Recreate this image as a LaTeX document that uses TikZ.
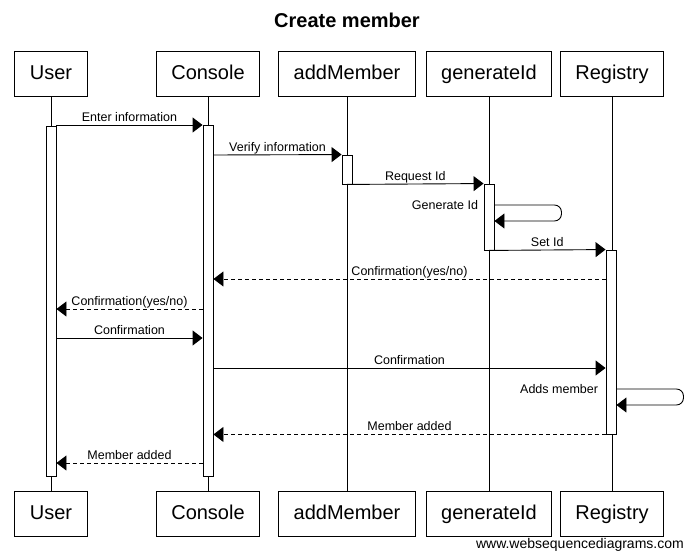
\documentclass[tikz,border=0pt]{standalone}
\usepackage{fontspec}
\setmainfont{Liberation Sans}
\usetikzlibrary{arrows.meta,positioning}

\begin{document}
\begin{tikzpicture}[
        x=1pt, y=-1pt,
        box/.style={rectangle, draw=black, line width=0.9pt, fill=white, minimum height=45pt, inner xsep=15pt, text height=14.5pt, text depth=4pt, font=\fontsize{20}{24}\selectfont},
        act/.style={rectangle, draw=black, line width=0.9pt, fill=white, minimum width=10pt, inner sep=0pt},
        msg/.style={-{Triangle[length=10pt,width=15pt]}, line width=0.9pt},
        reply/.style={msg, dash pattern=on 4pt off 3pt},
        lbl/.style={font=\fontsize{12.5}{14}\selectfont, anchor=base, yshift=3.5pt, inner sep=0pt},
        selflbl/.style={font=\fontsize{12.5}{14}\selectfont, anchor=east, inner sep=0pt}
    ]
    \useasboundingbox (0,0) rectangle (694,559);

    % Title
    \node[font=\bfseries\fontsize{20}{24}\selectfont] (title) at (347,20) {Create member};

    % Participants
    \node[box] (userTop) at (51,74) {User};
    \node[box] (consoleTop) at (208,74) {Console};
    \node[box] (addTop) at (347,74) {addMember};
    \node[box] (genTop) at (489,74) {generateId};
    \node[box] (regTop) at (612,74) {Registry};

    \node[box, below=394pt of userTop] (userBot) {User};
    \node[box, below=394pt of consoleTop] (consoleBot) {Console};
    \node[box, below=394pt of addTop] (addBot) {addMember};
    \node[box, below=394pt of genTop] (genBot) {generateId};
    \node[box, below=394pt of regTop] (regBot) {Registry};

    % Lifelines
    \foreach \p in {user,console,add,gen,reg}
        \draw[line width=0.9pt] (\p Top) -- (\p Bot);

    % Activations
    \node[act, minimum height=350pt] (userAct) at (51,301) {};
    \node[act, minimum height=351pt] (consoleAct) at (208,300.5) {};
    \node[act, minimum height=29pt] (addAct) at (347,169.5) {};
    \node[act, minimum height=66pt] (genAct) at (489,217) {};
    \node[act, minimum height=184pt] (regAct) at (611,342) {};

    % Message rows
    \coordinate (r1) at (0,125);
    \coordinate (r2) at (0,155);
    \coordinate (r4) at (0,205);
    \coordinate (r4b) at (0,221);
    \coordinate (r6) at (0,279);
    \coordinate (r7) at (0,309);
    \coordinate (r8) at (0,338);
    \coordinate (r9) at (0,368);
    \coordinate (r10) at (0,389);
    \coordinate (r10b) at (0,405);
    \coordinate (r12) at (0,463);

    % Messages
    \draw[msg] (userAct.east |- r1) -- node[lbl] {Enter information} (consoleAct.west |- r1);
    \draw[msg] (consoleAct.east |- r2) -- node[lbl] {Verify information} (addAct.north west);
    \draw[msg] (addAct.south) -- node[lbl] {Request Id} (genAct.north west);
    \draw[msg, rounded corners=7pt] (genAct.east |- r4) node[selflbl, xshift=-16pt] {Generate Id}
        -- ++(67,0) -- ++(0,16) -- (genAct.east |- r4b);
    \draw[msg] (genAct.south) -- node[lbl] {Set Id} (regAct.north west);
    \draw[reply] (regAct.west |- r6) -- node[lbl] {Confirmation(yes/no)} (consoleAct.east |- r6);
    \draw[reply] (consoleAct.west |- r7) -- node[lbl] {Confirmation(yes/no)} (userAct.east |- r7);
    \draw[msg] (userAct.east |- r8) -- node[lbl] {Confirmation} (consoleAct.west |- r8);
    \draw[msg] (consoleAct.east |- r9) -- node[lbl] {Confirmation} (regAct.west |- r9);
    \draw[msg, rounded corners=7pt] (regAct.east |- r10) node[selflbl, xshift=-18pt] {Adds member}
        -- ++(67,0) -- ++(0,16) -- (regAct.east |- r10b);
    \draw[reply] (regAct.south west) -- node[lbl] {Member added} (consoleAct.east |- regAct.south west);
    \draw[reply] (consoleAct.west |- r12) -- node[lbl] {Member added} (userAct.east |- r12);

    % Credit
    \node[font=\fontsize{14}{16}\selectfont, anchor=base east, inner sep=0pt] (credit) at (684,548) {www.websequencediagrams.com};

\end{tikzpicture}
\end{document}
